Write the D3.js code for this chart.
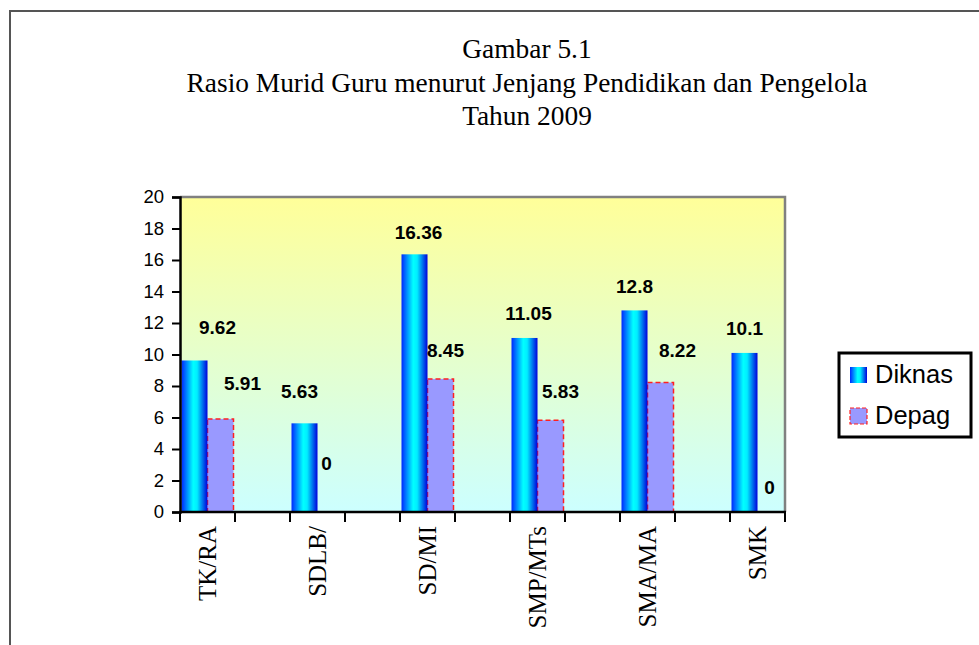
<!DOCTYPE html>
<html>
<head>
<meta charset="utf-8">
<script src="https://cdn.jsdelivr.net/npm/d3@7/dist/d3.min.js"></script>
<style>
  html, body { margin: 0; padding: 0; background: #fff; }
  svg { display: block; }
</style>
</head>
<body>
<svg id="chart" width="979" height="645"></svg>
<script>
// Rasio murid guru, tahun 2009
const categories = ["TK/RA", "SDLB/", "SD/MI", "SMP/MTs", "SMA/MA", "SMK"];
const diknas = [9.62, 5.63, 16.36, 11.05, 12.8, 10.1];
const depag = [5.91, 0, 8.45, 5.83, 8.22, 0];
const seriesNames = ["Diknas", "Depag"];
const yTicks = [0, 2, 4, 6, 8, 10, 12, 14, 16, 18, 20];
const titleLines = [
  "Gambar 5.1",
  "Rasio Murid Guru menurut Jenjang Pendidikan dan Pengelola",
  "Tahun 2009"
];

// hand-placed label nudges (pixels, relative to bar centre / bar top)
const diknasNudge = [[23, -33], [-5, -32], [4, -22], [4, -25], [0, -24], [0, -25]];
const depagNudge = [[22, -36], [-4, -49], [5, -29], [10, -29], [17, -32], [-1, -25]];

const svg = d3.select("#chart");
const plot = { left: 180, right: 785, top: 197, bottom: 512 };

// outer frame
svg.append("rect")
  .attr("x", 10).attr("y", 11).attr("width", 1100).attr("height", 800)
  .attr("fill", "none").attr("stroke", "#555").attr("stroke-width", 2);

// title
svg.append("g").selectAll("text").data(titleLines).join("text")
  .attr("x", 527)
  .attr("y", (d, i) => 58 + i * 33.5)
  .attr("text-anchor", "middle")
  .attr("font-family", "'Liberation Serif', 'Times New Roman', serif")
  .attr("font-size", 27.4)
  .attr("fill", "#000")
  .text(d => d);

const defs = svg.append("defs");
const bg = defs.append("linearGradient").attr("id", "bg")
  .attr("x1", 0).attr("y1", 0).attr("x2", 0).attr("y2", 1);
bg.append("stop").attr("offset", "0%").attr("stop-color", "#ffff99");
bg.append("stop").attr("offset", "100%").attr("stop-color", "#ccffff");

const barGrad = defs.append("linearGradient").attr("id", "barGrad")
  .attr("x1", 0).attr("y1", 0).attr("x2", 1).attr("y2", 0);
barGrad.append("stop").attr("offset", "0%").attr("stop-color", "#0028ff");
barGrad.append("stop").attr("offset", "45%").attr("stop-color", "#00ffff");
barGrad.append("stop").attr("offset", "60%").attr("stop-color", "#00eeff");
barGrad.append("stop").attr("offset", "100%").attr("stop-color", "#0000dd");

// slots: each category followed by an empty spacer slot
const slots = d3.range(categories.length * 2 - 1);
const x = d3.scaleBand().domain(slots).range([plot.left, plot.right]).paddingInner(0).paddingOuter(0);
const y = d3.scaleLinear().domain([0, 20]).range([plot.bottom, plot.top]);
const slotOf = i => i * 2;
const inset = 1.5;
const barW = (x.bandwidth() - 2 * inset) / 2;

// plot background
svg.append("rect")
  .attr("x", plot.left).attr("y", plot.top)
  .attr("width", plot.right - plot.left).attr("height", plot.bottom - plot.top)
  .attr("fill", "url(#bg)");

// top and right plot border
svg.append("path")
  .attr("d", `M${plot.left},${plot.top}H${plot.right}V${plot.bottom}`)
  .attr("fill", "none").attr("stroke", "#808080").attr("stroke-width", 2.5);

// Depag bars
svg.append("g").selectAll("rect").data(depag).join("rect")
  .attr("x", (d, i) => x(slotOf(i)) + inset + barW)
  .attr("y", d => y(d))
  .attr("width", barW)
  .attr("height", d => y(0) - y(d))
  .attr("fill", "#9999ff")
  .attr("stroke", d => d > 0 ? "#ff2020" : "none")
  .attr("stroke-width", 1.5)
  .attr("stroke-dasharray", "5,3");

// Diknas bars
svg.append("g").selectAll("rect").data(diknas).join("rect")
  .attr("x", (d, i) => x(slotOf(i)) + inset)
  .attr("y", d => y(d))
  .attr("width", barW)
  .attr("height", d => y(0) - y(d))
  .attr("fill", "url(#barGrad)");

// value labels
const labelFont = "'Liberation Sans', Arial, sans-serif";
function addLabels(values, nudges, offset) {
  svg.append("g").selectAll("text").data(values).join("text")
    .attr("x", (d, i) => x(slotOf(i)) + inset + offset + barW / 2 + nudges[i][0])
    .attr("y", (d, i) => y(d) + nudges[i][1])
    .attr("dy", "0.36em")
    .attr("text-anchor", "middle")
    .attr("font-family", labelFont)
    .attr("font-weight", "bold")
    .attr("font-size", 19)
    .attr("fill", "#000")
    .text(d => d);
}
addLabels(diknas, diknasNudge, 0);
addLabels(depag, depagNudge, barW);

// y axis
const yAxis = svg.append("g")
  .attr("transform", `translate(${plot.left},0)`)
  .call(d3.axisLeft(y).tickValues(yTicks).tickSize(8).tickPadding(8).tickFormat(d3.format("d")));
yAxis.select(".domain").attr("stroke", "#000").attr("stroke-width", 2.5);
yAxis.selectAll(".tick line").attr("stroke", "#000").attr("stroke-width", 2);
yAxis.selectAll(".tick text")
  .attr("font-family", labelFont).attr("font-size", 18.5).attr("fill", "#000");

// x axis: ticks at every slot boundary
const boundaries = slots.map(s => x(s)).concat([plot.right]);
const xAxis = svg.append("g");
xAxis.append("line")
  .attr("x1", plot.left - 1).attr("x2", plot.right + 1)
  .attr("y1", plot.bottom).attr("y2", plot.bottom)
  .attr("stroke", "#000").attr("stroke-width", 2.5);
xAxis.selectAll("line.tick").data(boundaries).join("line")
  .attr("class", "tick")
  .attr("x1", d => d).attr("x2", d => d)
  .attr("y1", plot.bottom).attr("y2", plot.bottom + 10)
  .attr("stroke", "#000").attr("stroke-width", 2);
xAxis.selectAll("text").data(categories).join("text")
  .attr("transform", (d, i) => `translate(${x(slotOf(i)) + x.bandwidth() / 2},${plot.bottom + 14}) rotate(-90)`)
  .attr("dy", "0.33em")
  .attr("text-anchor", "end")
  .attr("font-family", "'Liberation Serif', 'Times New Roman', serif")
  .attr("font-size", 25)
  .attr("fill", "#000")
  .text(d => d);

// legend
const legend = svg.append("g").attr("transform", "translate(839,353)");
legend.append("rect")
  .attr("width", 132).attr("height", 84)
  .attr("fill", "#fff").attr("stroke", "#000").attr("stroke-width", 3);
const legendRows = legend.selectAll("g.row").data(seriesNames).join("g")
  .attr("class", "row")
  .attr("transform", (d, i) => `translate(11,${14 + i * 41})`);
legendRows.append("rect")
  .attr("width", 17).attr("height", 16)
  .attr("fill", (d, i) => i === 0 ? "url(#barGrad)" : "#9999ff")
  .attr("stroke", (d, i) => i === 0 ? "none" : "#ff2020")
  .attr("stroke-width", 1.2)
  .attr("stroke-dasharray", "4,2");
legendRows.append("text")
  .attr("x", 25).attr("y", 16)
  .attr("font-family", labelFont)
  .attr("font-size", 25.5)
  .attr("fill", "#000")
  .text(d => d);
</script>
</body>
</html>
